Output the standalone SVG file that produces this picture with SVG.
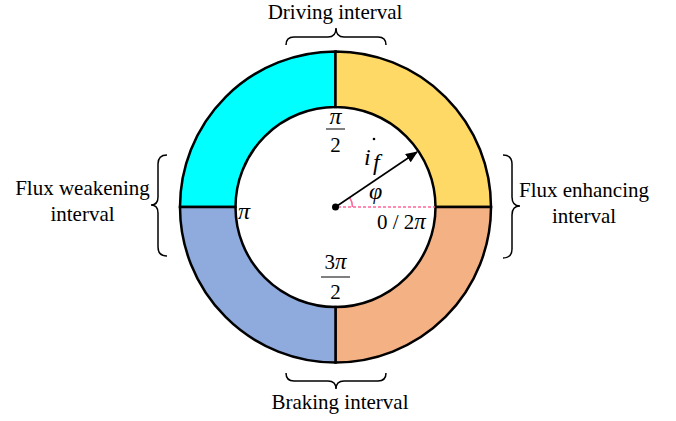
<svg xmlns="http://www.w3.org/2000/svg" width="676" height="421" viewBox="0 0 676 421">
<style>
.seg{stroke:#000;stroke-width:2.5;stroke-linejoin:miter}
.t{font-family:"Liberation Serif","Times New Roman",serif;font-size:21px;fill:#000}
.m{font-family:"Liberation Serif","Times New Roman",serif;font-size:24px;fill:#000;font-style:italic}
.brace{fill:none;stroke:#000;stroke-width:1.5}
</style>
<defs>
<marker id="ah" markerWidth="12" markerHeight="10" refX="11" refY="5" orient="auto" markerUnits="userSpaceOnUse">
<path d="M0,0 L12,5 L0,10 Z" fill="#000"/>
</marker>
</defs>
<rect width="676" height="421" fill="#fff"/>
<g id="ring">
<path id="q-driving" class="seg" fill="#00FFFF" d="M180,207 A155.5,155.5 0 0 1 335.5,51.5 L335.5,107 A100,100 0 0 0 235.5,207 Z"/>
<path id="q-enhance" class="seg" fill="#FFD966" d="M335.5,51.5 A155.5,155.5 0 0 1 491,207 L435.5,207 A100,100 0 0 0 335.5,107 Z"/>
<path id="q-braking" class="seg" fill="#F4B183" d="M491,207 A155.5,155.5 0 0 1 335.5,362.5 L335.5,307 A100,100 0 0 0 435.5,207 Z"/>
<path id="q-weaken" class="seg" fill="#8FAADC" d="M335.5,362.5 A155.5,155.5 0 0 1 180,207 L235.5,207 A100,100 0 0 0 335.5,307 Z"/>
</g>
<g id="labels-inner">
<text class="m" x="335.5" y="124" text-anchor="middle">π</text>
<line x1="326" y1="129" x2="345" y2="129" stroke="#000" stroke-width="1"/>
<text class="t" x="335.5" y="152" text-anchor="middle">2</text>
<text class="m" x="238" y="219">π</text>
<text class="t" x="377" y="229">0 / 2<tspan font-style="italic" font-size="23">π</tspan></text>
<text class="t" x="335.5" y="269" text-anchor="middle">3<tspan font-style="italic" font-size="23">π</tspan></text>
<line x1="321" y1="277" x2="350" y2="277" stroke="#000" stroke-width="1"/>
<text class="t" x="335.5" y="299" text-anchor="middle">2</text>
<text class="m" x="364" y="165">i</text>
<circle cx="374" cy="139" r="1.3" fill="#000"/>
<text class="m" x="373" y="170" font-size="15">f</text>
<text class="m" x="369" y="199" font-size="22">φ</text>
</g>
<g id="connectors">
<line x1="338" y1="207" x2="435" y2="207" stroke="#FF6699" stroke-width="1.5" stroke-dasharray="3,2"/>
<path d="M352.5,207 A17,17 0 0 0 349.6,197.5" fill="none" stroke="#FF6699" stroke-width="1.5"/>
<line x1="335.5" y1="207" x2="417" y2="152" stroke="#000" stroke-width="1.6" marker-end="url(#ah)"/>
<circle cx="335.5" cy="207" r="3.5" fill="#000"/>
</g>
<g id="driving">
<path class="brace" d="M286,45 Q286,37 294,37 L328,37 Q336,37 336,28 Q336,37 344,37 L378,37 Q386,37 386,45"/>
<text class="t" x="335" y="19" text-anchor="middle">Driving interval</text>
</g>
<g id="braking">
<path class="brace" d="M286,373 Q286,381 294,381 L328,381 Q336,381 336,389 Q336,381 344,381 L378,381 Q386,381 386,373"/>
<text class="t" x="340" y="409" text-anchor="middle">Braking interval</text>
</g>
<g id="weakening">
<path class="brace" d="M167,155 Q158,155 158,164 L158,197 Q158,205 151,205 Q158,205 158,213 L158,247 Q158,256 167,256"/>
<text class="t" x="82.5" y="195" text-anchor="middle">Flux weakening</text>
<text class="t" x="82.5" y="221" text-anchor="middle">interval</text>
</g>
<g id="enhancing">
<path class="brace" d="M503,155 Q512,155 512,164 L512,197 Q512,206 520,206 Q512,206 512,215 L512,249 Q512,258 503,258"/>
<text class="t" x="584" y="197" text-anchor="middle">Flux enhancing</text>
<text class="t" x="584" y="223" text-anchor="middle">interval</text>
</g>
</svg>
